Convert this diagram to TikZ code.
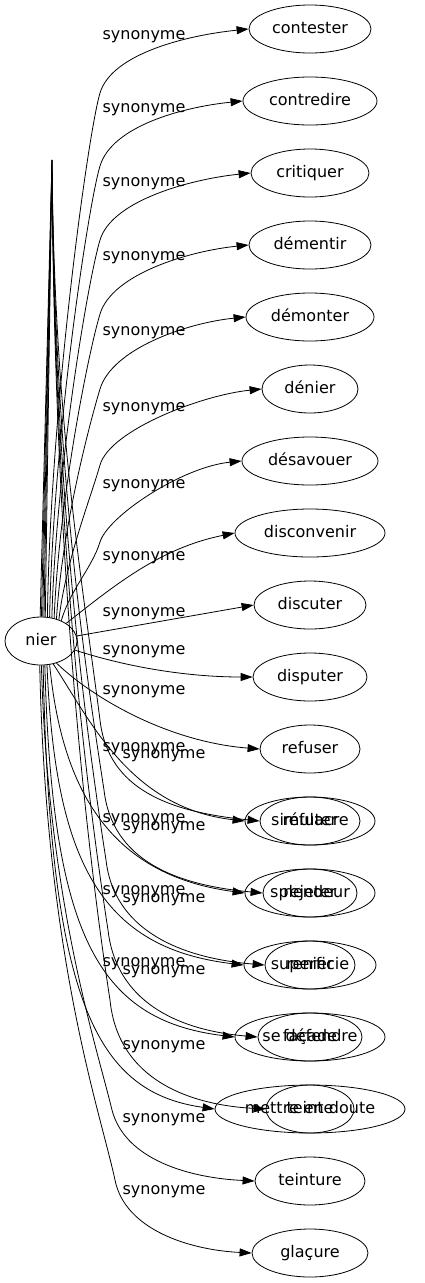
\documentclass[tikz,border=0pt]{standalone}
\usepackage{fontspec}
\setmainfont{DejaVu Sans}
\usetikzlibrary{shapes.geometric, arrows.meta, positioning}

\begin{document}
\begin{tikzpicture}[
  x=1pt, y=-1pt,
  word/.style={ellipse, draw, line width=0.8pt, inner sep=0pt, minimum height=48pt,
               text height=12pt, text depth=4pt, font=\fontsize{16}{18}\selectfont},
  rel/.style={inner sep=0pt, text height=12pt, text depth=4pt, font=\fontsize{16}{18}\selectfont},
  syn/.style={-{Triangle[length=12pt,width=8pt]}, line width=0.8pt},
  node distance=23.2pt
]
  \useasboundingbox (0,0) rectangle (425,1283);

  \node[word, minimum width=72pt] (nier) at (41,641) {nier};

  % column of synonyms
  \node[word, minimum width=122pt] (contester) at (310,29) {contester};
  \node[word, minimum width=134pt, below=of contester] (contredire) {contredire};
  \node[word, minimum width=118pt, below=of contredire] (critiquer) {critiquer};
  \node[word, minimum width=122pt, below=of critiquer] (dementir) {démentir};
  \node[word, minimum width=128pt, below=of dementir] (demonter) {démonter};
  \node[word, minimum width=96pt, below=of demonter] (denier) {dénier};
  \node[word, minimum width=136pt, below=of denier] (desavouer) {désavouer};
  \node[word, minimum width=150pt, below=of desavouer] (disconvenir) {disconvenir};
  \node[word, minimum width=112pt, below=of disconvenir] (discuter) {discuter};
  \node[word, minimum width=114pt, below=of discuter] (disputer) {disputer};
  \node[word, minimum width=100pt, below=of disputer] (refuser) {refuser};
  \node[word, minimum width=130pt, below=of refuser] (simulacre) {simulacre};
  \node[word, minimum width=100pt] (refuter) at (simulacre) {réfuter};
  \node[word, minimum width=130pt, below=of simulacre] (splendeur) {splendeur};
  \node[word, minimum width=94pt] (rejeter) at (splendeur) {rejeter};
  \node[word, minimum width=132pt, below=of splendeur] (superficie) {superficie};
  \node[word, minimum width=90pt] (renier) at (superficie) {renier};
  \node[word, minimum width=150pt, below=of superficie] (sedefendre) {se défendre};
  \node[word, minimum width=104pt] (facade) at (sedefendre) {façade};
  \node[word, minimum width=190pt, below=of sedefendre] (mettre) {mettre en doute};
  \node[word, minimum width=88pt] (teinte) at (mettre) {teinte};
  \node[word, minimum width=110pt, below=of mettre] (teinture) {teinture};
  \node[word, minimum width=116pt, below=of teinture] (glacure) {glaçure};

  % edge labels
  \node[rel] (l-contester) at (144,35.5) {synonyme};
  \node[rel] (l-contredire) at (144,108) {synonyme};
  \node[rel] (l-critiquer) at (144,182) {synonyme};
  \node[rel] (l-dementir) at (144,256) {synonyme};
  \node[rel] (l-demonter) at (144,331) {synonyme};
  \node[rel] (l-denier) at (144,407) {synonyme};
  \node[rel] (l-desavouer) at (144,484) {synonyme};
  \node[rel] (l-disconvenir) at (144,556) {synonyme};
  \node[rel] (l-discuter) at (144,612) {synonyme};
  \node[rel] (l-disputer) at (144,650) {synonyme};
  \node[rel] (l-refuser) at (144,690) {synonyme};
  \node[rel] (l-simulacre) at (144,747) {synonyme};
  \node[rel] (l-refuter) at (164,754) {synonyme};
  \node[rel] (l-splendeur) at (144,818) {synonyme};
  \node[rel] (l-rejeter) at (164,826) {synonyme};
  \node[rel] (l-superficie) at (144,890) {synonyme};
  \node[rel] (l-renier) at (164,898) {synonyme};
  \node[rel] (l-sedefendre) at (144,962) {synonyme};
  \node[rel] (l-facade) at (164,970) {synonyme};
  \node[rel] (l-mettre) at (164,1045) {synonyme};
  \node[rel] (l-teinture) at (164,1118) {synonyme};
  \node[rel] (l-glacure) at (164,1190) {synonyme};

  % upper edges
  \draw[syn] (nier.75) .. controls (50,410) and (88,133) .. (100,93)
    .. controls (112,53) and (189,35) .. (contester.west);
  \draw[syn] (nier.70) .. controls (53,440) and (88,206) .. (100,166)
    .. controls (112,126) and (183,107) .. (contredire.west);
  \draw[syn] (nier.65) .. controls (56,470) and (88,280) .. (100,240)
    .. controls (112,200) and (192,179) .. (critiquer.west);
  \draw[syn] (nier.60) .. controls (59,500) and (88,354) .. (100,314)
    .. controls (112,274) and (189,251) .. (dementir.west);
  \draw[syn] (nier.55) .. controls (62,530) and (88,429) .. (100,389)
    .. controls (112,349) and (186,323) .. (demonter.west);
  \draw[syn] (nier.50) .. controls (66,560) and (90,500) .. (100,465)
    .. controls (110,430) and (202,395) .. (denier.west);
  \draw[syn] (nier.45) .. controls (70,590) and (92,568) .. (100,542)
    .. controls (108,516) and (182,467) .. (desavouer.west);
  \draw[syn] (nier.35) .. controls (115,585) and (160,548) .. (disconvenir.west);
  \draw[syn] (nier.8) -- (discuter.west);
  \draw[syn] (nier.-15) .. controls (130,668) and (190,677) .. (disputer.west);
  \draw[syn] (nier.-55) .. controls (95,700) and (170,742) .. (refuser.west);

  % lower edges
  \draw[syn] (nier.-62) .. controls (90,720) and (130,808) .. (simulacre.west);
  \draw[syn] (nier.-70) .. controls (62,790) and (110,875) .. (splendeur.west);
  \draw[syn] (nier.-76) .. controls (55,860) and (100,948) .. (superficie.west);
  \draw[syn] (nier.-81) .. controls (52,930) and (95,1020) .. (sedefendre.west);
  \draw[syn] (nier.-85) .. controls (50,1000) and (95,1092) .. (mettre.west);
  \draw[syn] (nier.-89) .. controls (48,900) and (95,1040) .. (112,1110)
    .. controls (125,1160) and (190,1178) .. (teinture.west);
  \draw[syn] (nier.-93) .. controls (46,960) and (100,1110) .. (115,1180)
    .. controls (125,1230) and (190,1250) .. (glacure.west);

  % edges through the spike
  \coordinate (tip) at (52,160);
  \draw[syn] (nier.92) -- (tip) .. controls (54,420) and (82,580) .. (100,720)
    .. controls (108,790) and (170,812) .. (refuter.west);
  \draw[syn] (nier.89) -- (tip) .. controls (54,460) and (84,660) .. (104,790)
    .. controls (112,860) and (175,885) .. (rejeter.west);
  \draw[syn] (nier.86) -- (tip) .. controls (54,500) and (86,730) .. (106,860)
    .. controls (114,930) and (180,958) .. (renier.west);
  \draw[syn] (nier.83) -- (tip) .. controls (54,540) and (88,800) .. (108,930)
    .. controls (116,1000) and (175,1030) .. (facade.west);
  \draw[syn] (nier.80) -- (tip) .. controls (54,580) and (90,870) .. (110,1000)
    .. controls (118,1080) and (190,1105) .. (teinte.west);
\end{tikzpicture}
\end{document}
